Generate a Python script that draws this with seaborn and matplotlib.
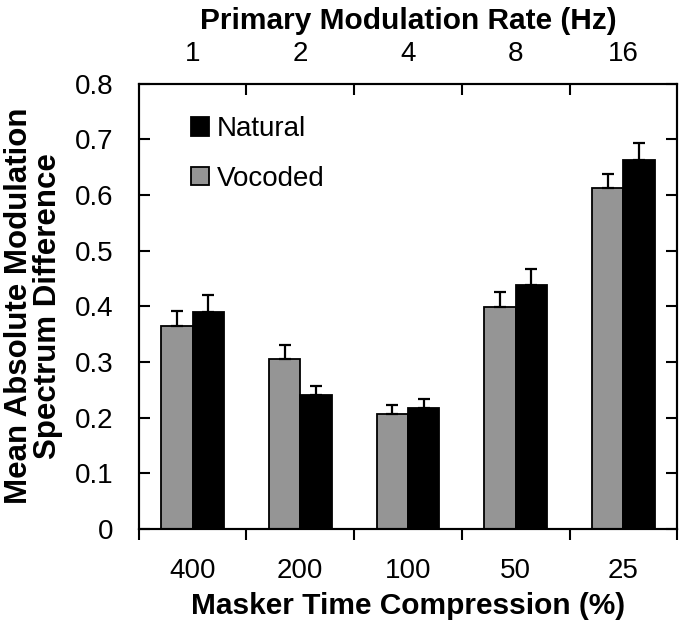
import numpy as np
import pandas as pd
import matplotlib
matplotlib.use('Agg')
import matplotlib.pyplot as plt
import seaborn as sns
from matplotlib.patches import Patch

compression = ['400', '200', '100', '50', '25']
rates = ['1', '2', '4', '8', '16']
vocoded = [0.364, 0.305, 0.207, 0.398, 0.613]
vocoded_top = [0.391, 0.330, 0.223, 0.425, 0.637]
natural = [0.390, 0.241, 0.217, 0.439, 0.663]
natural_top = [0.421, 0.257, 0.234, 0.467, 0.693]

sns.set_theme(style='ticks')
plt.rcParams['font.family'] = ['Liberation Sans', 'DejaVu Sans']
plt.rcParams['text.color'] = 'black'
plt.rcParams['axes.labelcolor'] = 'black'
plt.rcParams['xtick.color'] = 'black'
plt.rcParams['ytick.color'] = 'black'

data = pd.DataFrame({
    'Compression': compression * 2,
    'Condition': ['Vocoded'] * 5 + ['Natural'] * 5,
    'Value': vocoded + natural,
})

fig = plt.figure(figsize=(6.8, 6.25), dpi=100)
ax = fig.add_axes([0.204, 0.154, 0.792, 0.712])
sns.barplot(x='Compression', y='Value', hue='Condition', data=data,
            order=compression, hue_order=['Vocoded', 'Natural'],
            palette=['#959595', '#000000'], edgecolor='black', linewidth=1.3,
            width=0.58, gap=0, errorbar=None, legend=False, ax=ax)

# upper-only error bars
for cont, vals, tops in zip(ax.containers, [vocoded, natural], [vocoded_top, natural_top]):
    xs = [p.get_x() + p.get_width() / 2 for p in cont.patches]
    err = np.array(tops) - np.array(vals)
    ax.errorbar(xs, vals, yerr=[np.zeros(5), err], fmt='none', ecolor='black',
                elinewidth=1.6, capsize=4.6, capthick=1.6, zorder=1)

ax.set_xlim(-0.5, 4.5)
ax.set_ylim(0, 0.8)
ax.set_yticks(np.arange(0, 0.81, 0.1))
ax.set_yticklabels(['0', '0.1', '0.2', '0.3', '0.4', '0.5', '0.6', '0.7', '0.8'])
ax.tick_params(axis='y', direction='in', length=8, width=1.5, right=True,
               labelsize=20, pad=18)
ax.set_xticks(range(5))
ax.set_xticklabels(compression)
ax.set_xticks(np.arange(-0.5, 4.6, 1), minor=True)
ax.tick_params(axis='x', which='major', length=0, labelsize=20, pad=21)
ax.tick_params(axis='x', which='minor', direction='out', length=8, width=1.5)
for s in ax.spines.values():
    s.set_linewidth(1.5)
    s.set_color('black')

ax.set_xlabel('Masker Time Compression (%)', fontsize=21.5, fontweight='bold', labelpad=6)
ax.set_ylabel('Mean Absolute Modulation\nSpectrum Difference', fontsize=22.5,
              fontweight='bold', linespacing=0.95)
ax.yaxis.set_label_coords(-0.14, 0.5)

ax2 = ax.twiny()
ax2.set_xlim(ax.get_xlim())
ax2.set_xticks(range(5))
ax2.set_xticklabels(rates)
ax2.set_xticks(np.arange(0.5, 4.0, 1), minor=True)
ax2.tick_params(axis='x', which='major', length=0, labelsize=20, pad=12)
ax2.tick_params(axis='x', which='minor', direction='in', length=8, width=1.5)
ax2.set_xlabel('Primary Modulation Rate (Hz)', fontsize=21.5, fontweight='bold', labelpad=9)
for s in ax2.spines.values():
    s.set_linewidth(1.5)
    s.set_color('black')

handles = [Patch(facecolor='black', edgecolor='black', linewidth=1.3, label='Natural'),
           Patch(facecolor='#959595', edgecolor='black', linewidth=1.3, label='Vocoded')]
ax.legend(handles=handles, loc='upper left', bbox_to_anchor=(0.05, 0.983),
          frameon=False, fontsize=20, handlelength=0.65, handleheight=0.65,
          handletextpad=0.3, labelspacing=0.85)

fig.savefig('out.png', dpi=100)
